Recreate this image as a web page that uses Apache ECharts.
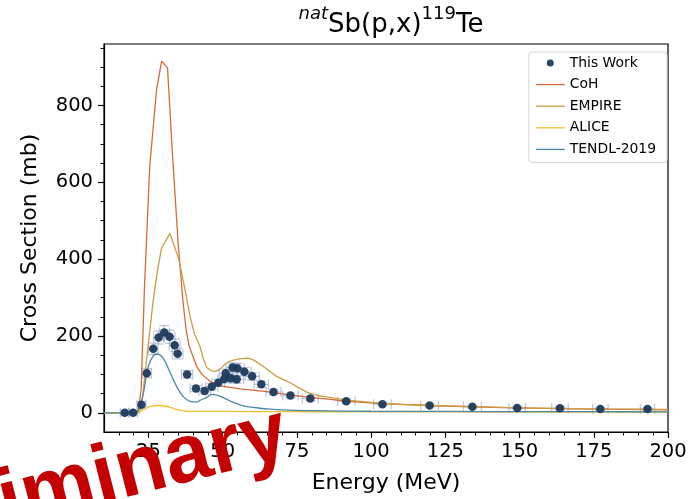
<!DOCTYPE html>
<html><head><meta charset="utf-8">
<script src="https://cdn.jsdelivr.net/npm/echarts@6/dist/echarts.min.js"></script>
<style>html,body{margin:0;padding:0;background:#fff}#c{width:692px;height:499px}</style>
</head><body><div id="c"></div>
<script>
// ---- tick values ----
const xTicks = [25, 50, 75, 100, 125, 150, 175, 200];
const xMinor = [15, 20, 30, 35, 40, 45, 55, 60, 65, 70, 80, 85, 90, 95, 105, 110, 115, 120, 130, 135, 140, 145, 155, 160, 165, 170, 180, 185, 190, 195];
const yTicks = [0, 200, 400, 600, 800];
const yMinor = [50, 100, 150, 250, 300, 350, 450, 500, 550, 650, 700, 750, 850, 900, 950];

// ---- measured data (This Work) ----
const expE   = [17.0, 19.8, 22.6, 24.4, 26.6, 28.4, 30.3, 32.1, 33.8, 34.8, 38.0, 41.0, 43.9, 46.3, 48.5, 50.5, 51.0, 52.7, 53.3, 54.7, 54.9, 57.3, 59.9, 63.0, 67.1, 72.8, 79.5, 91.6, 103.8, 119.7, 134.1, 149.2, 163.6, 177.2, 193.1];
const expXS  = [0, 0, 21, 103, 167, 196, 209, 198, 176, 154, 100, 63, 57, 68, 78, 88, 103, 90, 118, 87, 116, 107, 95, 74, 54, 45, 37, 30, 22, 19, 16, 12.5, 12, 10, 10];
const expEErr  = [1.5, 1.5, 1.5, 1.6, 1.6, 1.7, 1.7, 1.8, 1.8, 1.8, 1.9, 2.0, 2.0, 2.1, 2.1, 2.2, 2.2, 2.2, 2.2, 2.3, 2.3, 2.3, 2.4, 2.4, 2.5, 2.6, 2.7, 2.9, 3.0, 3.0, 3.0, 2.8, 2.8, 2.6, 2.4];
const expXSErr = [6, 6, 8, 12, 15, 17, 18, 17, 16, 14, 10, 8, 8, 8, 9, 10, 11, 10, 12, 10, 12, 11, 10, 8, 7, 6, 6, 5, 4, 4, 3, 3, 3, 3, 3];

// ---- model curves ----
const cohE  = [10, 20, 21.5, 22.5, 23.6, 25.4, 27.7, 29.4, 31.4, 33.1, 35.0, 36.6, 37.6, 38.7, 41.2, 43, 45.7, 49.1, 55.9, 64.9, 72.8, 79.5, 86.3, 91.6, 103.8, 119.7, 134.1, 149.2, 163.6, 177.2, 193.1, 200];
const cohXS = [0, 0, 2, 60, 320, 641, 841, 915, 898, 667, 440, 290, 220, 173, 121, 100, 82, 70, 62, 55, 46, 40, 35, 30, 24, 19, 15.6, 13, 11, 9.6, 8.2, 7.8];

const empE  = [10, 20, 22, 23, 24.5, 26.6, 28, 29.4, 32.2, 33.5, 35.2, 37.3, 39, 40.5, 42.3, 43.5, 44.6, 46, 47.4, 49, 51, 53, 56, 58.5, 60.5, 63.8, 68.3, 71.7, 75, 78.5, 82, 86, 91.8, 100, 110, 120, 135, 150, 165, 180, 200];
const empXS = [0, 0, 0, 40, 150, 294, 370, 429, 467, 438, 400, 320, 250, 205, 173, 140, 118, 110, 108, 113, 128, 136, 141, 142, 137, 120, 94, 82, 68, 53, 45, 40, 33, 27, 22, 19, 16, 13, 11, 10, 9];

const aliE  = [10, 21, 22.3, 24, 25.7, 28.4, 31.2, 33.5, 35.8, 38, 40, 50, 70, 100, 150, 200];
const aliXS = [0, 0, 5, 11, 17, 19, 17, 11, 6, 4, 3.5, 3.5, 3, 2.5, 2, 1.5];

const tenE  = [10, 20, 21.5, 23.2, 24.9, 26.6, 27.9, 29.9, 32.2, 34.5, 36.7, 39, 41.2, 42.5, 44.6, 46.3, 48, 50, 53.6, 57, 60.4, 65, 72, 80, 100, 125, 150, 175, 200];
const tenXS = [0, 0, 5, 49, 120, 148, 153, 142, 106, 68, 42, 30, 28, 33, 40, 48, 46, 40, 27, 18, 14, 10, 7, 5.5, 4, 3.5, 3, 2.8, 2.5];

const zip = (a, b) => a.map((v, i) => [v, b[i]]);
const FONT = 'DejaVu Sans';
const C_COH = '#d86a3a', C_EMP = '#c99e45', C_ALI = '#f0c232', C_TEN = '#4a8aa8', C_EXP = '#1d3a5c';
const LINE_ICON = 'path://M0,0L40,0L40,1.8L0,1.8Z';

const chart = echarts.init(document.getElementById('c'), null, {renderer: 'canvas'});

const errData = expE.map((e, i) => [e, expXS[i], expEErr[i], expXSErr[i]]);

function renderErr(params, api) {
  const x = api.value(0), y = api.value(1), xe = api.value(2), ye = api.value(3);
  const l = api.coord([x - xe, y]), r = api.coord([x + xe, y]);
  const t = api.coord([x, y + ye]), b = api.coord([x, y - ye]);
  const cap = 5;
  const style = {stroke: 'rgba(140,162,195,0.6)', lineWidth: 1.2};
  return {
    type: 'group',
    children: [
      {type: 'line', shape: {x1: l[0], y1: l[1], x2: r[0], y2: r[1]}, style},
      {type: 'line', shape: {x1: t[0], y1: t[1], x2: b[0], y2: b[1]}, style},
      {type: 'line', shape: {x1: l[0], y1: l[1] - cap, x2: l[0], y2: l[1] + cap}, style},
      {type: 'line', shape: {x1: r[0], y1: r[1] - cap, x2: r[0], y2: r[1] + cap}, style},
      {type: 'line', shape: {x1: t[0] - cap, y1: t[1], x2: t[0] + cap, y2: t[1]}, style},
      {type: 'line', shape: {x1: b[0] - cap, y1: b[1], x2: b[0] + cap, y2: b[1]}, style}
    ]
  };
}

const lineCommon = {type: 'line', symbol: 'none', z: 3, clip: true};

const option = {
  animation: false,
  backgroundColor: '#fff',
  title: {
    text: '{it|nat}{m|Sb(p,x)}{s|119}{m|Te}',
    left: 386, top: 0, textAlign: 'center',
    textStyle: {
      fontWeight: 'normal',
      rich: {
        m:  {fontFamily: FONT, fontSize: 26, fontWeight: 'normal', color: '#000', lineHeight: 33, verticalAlign: 'bottom'},
        it: {fontFamily: FONT, fontSize: 18, fontWeight: 'normal', fontStyle: 'italic', color: '#000', lineHeight: 18, verticalAlign: 'top'},
        s:  {fontFamily: FONT, fontSize: 18, fontWeight: 'normal', color: '#000', lineHeight: 18, verticalAlign: 'top'}
      }
    }
  },
  grid: {left: 104, right: 24, top: 44, bottom: 67, show: true, borderColor: '#000', borderWidth: 1.2, backgroundColor: 'transparent'},
  legend: {
    orient: 'vertical', right: 25, top: 52,
    itemWidth: 29, itemHeight: 7, itemGap: 7.6, itemTextGap: 10,
    padding: [4, 11, 6, 7],
    borderColor: '#d6d6d6', borderWidth: 1, borderRadius: 3,
    backgroundColor: 'rgba(255,255,255,0.85)',
    textStyle: {fontFamily: FONT, fontSize: 13.9, color: '#000', lineHeight: 14},
    data: [
      {name: 'This Work', icon: 'circle', itemStyle: {color: C_EXP}},
      {name: 'CoH', icon: LINE_ICON, itemStyle: {color: C_COH}},
      {name: 'EMPIRE', icon: LINE_ICON, itemStyle: {color: C_EMP}},
      {name: 'ALICE', icon: LINE_ICON, itemStyle: {color: C_ALI}},
      {name: 'TENDL-2019', icon: LINE_ICON, itemStyle: {color: C_TEN}}
    ]
  },
  xAxis: [
    {
      type: 'value', min: 10, max: 200, position: 'bottom',
      name: 'Energy (MeV)', nameLocation: 'middle', nameGap: 40,
      nameTextStyle: {fontFamily: FONT, fontSize: 22, color: '#000'},
      axisLine: {show: true, onZero: false, lineStyle: {color: '#000', width: 1.2}},
      axisTick: {show: true, inside: false, length: 6, customValues: xTicks, lineStyle: {color: '#000', width: 1.2}},
      axisLabel: {show: true, customValues: xTicks, margin: 10, fontFamily: FONT, fontSize: 19.5, color: '#000'},
      splitLine: {show: false}
    },
    {
      type: 'value', min: 10, max: 200, position: 'bottom',
      axisLine: {show: false, onZero: false},
      axisTick: {show: true, inside: false, length: 3.5, customValues: xMinor, lineStyle: {color: '#000', width: 1}},
      axisLabel: {show: false},
      splitLine: {show: false}
    }
  ],
  yAxis: [
    {
      type: 'value', min: -50, max: 960, position: 'left',
      name: 'Cross Section (mb)', nameLocation: 'middle', nameGap: 63,
      nameTextStyle: {fontFamily: FONT, fontSize: 22, color: '#000'},
      axisLine: {show: true, onZero: false, lineStyle: {color: '#000', width: 1.2}},
      axisTick: {show: true, inside: false, length: 6, customValues: yTicks, lineStyle: {color: '#000', width: 1.2}},
      axisLabel: {show: true, customValues: yTicks, margin: 11, fontFamily: FONT, fontSize: 19.5, color: '#000'},
      splitLine: {show: false}
    },
    {
      type: 'value', min: -50, max: 960, position: 'left',
      axisLine: {show: false, onZero: false},
      axisTick: {show: true, inside: false, length: 3.5, customValues: yMinor, lineStyle: {color: '#000', width: 1}},
      axisLabel: {show: false},
      splitLine: {show: false}
    }
  ],
  series: [
    {type: 'custom', name: 'err', renderItem: renderErr, data: errData, encode: {x: 0, y: 1}, z: 2, silent: true},
    Object.assign({}, lineCommon, {name: 'CoH', data: zip(cohE, cohXS), lineStyle: {color: C_COH, width: 1.3}, itemStyle: {color: C_COH}}),
    Object.assign({}, lineCommon, {name: 'EMPIRE', data: zip(empE, empXS), lineStyle: {color: C_EMP, width: 1.3}, itemStyle: {color: C_EMP}}),
    Object.assign({}, lineCommon, {name: 'ALICE', data: zip(aliE, aliXS), smooth: 0.3, lineStyle: {color: C_ALI, width: 1.3}, itemStyle: {color: C_ALI}}),
    Object.assign({}, lineCommon, {name: 'TENDL-2019', data: zip(tenE, tenXS), smooth: 0.35, lineStyle: {color: C_TEN, width: 1.3}, itemStyle: {color: C_TEN}}),
    {type: 'scatter', name: 'This Work', data: zip(expE, expXS), symbolSize: 8.5, z: 4, itemStyle: {color: C_EXP, opacity: 0.95}}
  ],
  graphic: [
    {
      type: 'text', x: -152, y: 544, rotation: 0.248, z: 100, silent: true,
      style: {text: 'Preliminary', font: 'bold 83px "Liberation Sans"', fill: '#c40000', textAlign: 'left', textVerticalAlign: 'middle'}
    }
  ]
};
chart.setOption(option);
</script>
</body></html>
